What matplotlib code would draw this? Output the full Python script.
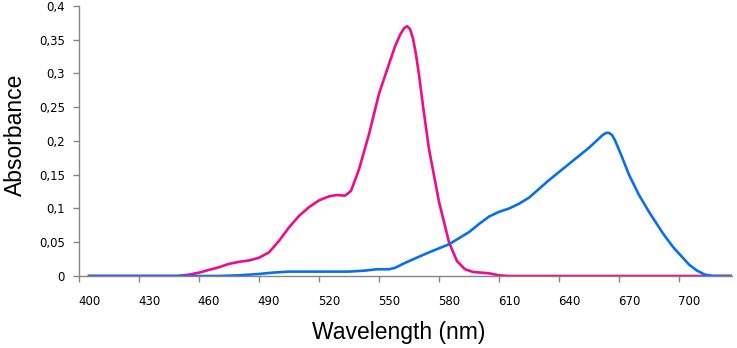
import matplotlib.pyplot as plt
from matplotlib.ticker import FixedLocator, FuncFormatter

# absorbance spectra
wl_pink = [400, 444, 450, 455, 460, 465, 470, 475, 480, 485, 490, 495, 500, 505,
           510, 515, 520, 524, 528, 531, 535, 540, 545, 550, 553, 555.5, 557.5,
           559, 560.5, 562, 563.5, 565, 567, 570, 575, 580, 584, 588, 592, 596,
           600, 605, 610, 721]
abs_pink = [0, 0, 0.002, 0.005, 0.009, 0.013, 0.018, 0.021, 0.023, 0.027, 0.035,
            0.052, 0.072, 0.089, 0.102, 0.112, 0.118, 0.120, 0.119, 0.126, 0.158,
            0.210, 0.270, 0.314, 0.340, 0.357, 0.367, 0.370, 0.366, 0.352, 0.328,
            0.298, 0.252, 0.188, 0.110, 0.050, 0.022, 0.010, 0.006, 0.005, 0.004,
            0.001, 0, 0]

wl_blue = [400, 465, 475, 485, 492, 500, 530, 538, 544, 550, 553, 557, 563, 570,
           580, 590, 595, 600, 605, 610, 615, 620, 625, 630, 635, 640, 645, 650,
           654, 656.5, 658.5, 660, 661.5, 663, 666, 670, 675, 680, 687, 692, 696,
           700, 704, 708, 712, 721]
abs_blue = [0, 0, 0.001, 0.003, 0.005, 0.0065, 0.0065, 0.008, 0.010, 0.010, 0.012,
            0.018, 0.026, 0.035, 0.047, 0.065, 0.077, 0.088, 0.095, 0.100, 0.107,
            0.116, 0.129, 0.142, 0.154, 0.166, 0.178, 0.190, 0.201, 0.208, 0.212,
            0.212, 0.209, 0.201, 0.180, 0.150, 0.120, 0.095, 0.063, 0.043, 0.030,
            0.017, 0.008, 0.002, 0, 0]

label_wl = list(range(400, 701, 30))
grid_wl = list(range(395, 696, 30))
y_ticks = [0, 0.05, 0.1, 0.15, 0.2, 0.25, 0.3, 0.35, 0.4]

fig = plt.figure(figsize=(7.37, 3.48), dpi=100)
ax = fig.add_axes([0.1072, 0.2069, 0.8860, 0.7759])

ax.plot(wl_pink, abs_pink, color='#EC0C8C', lw=1.9, solid_joinstyle='round')
ax.plot(wl_blue, abs_blue, color='#0A6FEF', lw=1.9, solid_joinstyle='round')

ax.set_xlim(395, 721.5)
ax.set_ylim(0, 0.4)

for s in ['top', 'right']:
    ax.spines[s].set_visible(False)
for s in ['left', 'bottom']:
    ax.spines[s].set_color('#868686')
    ax.spines[s].set_linewidth(1.0)

ax.xaxis.set_major_locator(FixedLocator(label_wl))
ax.xaxis.set_minor_locator(FixedLocator(grid_wl))
ax.tick_params(axis='x', which='major', length=0, pad=14, labelsize=8.5)
ax.tick_params(axis='x', which='minor', length=4, color='#868686', width=1)

ax.set_yticks(y_ticks)
ax.yaxis.set_major_formatter(FuncFormatter(lambda v, p: ('%g' % round(v, 2)).replace('.', ',')))
ax.tick_params(axis='y', length=4, color='#868686', width=1, pad=6, labelsize=8.5)

ax.set_xlabel('Wavelength (nm)', family='Liberation Sans', fontsize=16.5)
ax.set_ylabel('Absorbance', family='Liberation Sans', fontsize=16.5)
ax.xaxis.set_label_coords(0.489, -0.165)
ax.yaxis.set_label_coords(-0.08, 0.524)

fig.savefig('out.png', dpi=100)
